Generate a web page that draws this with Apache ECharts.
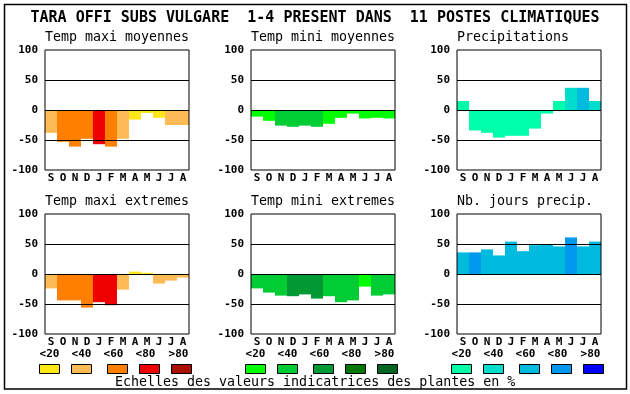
<!DOCTYPE html>
<html><head><meta charset="utf-8">
<script src="https://cdn.jsdelivr.net/npm/echarts@6/dist/echarts.min.js"></script>
<style>html,body{margin:0;padding:0;background:#fff}#c{width:630px;height:394px}</style>
</head><body><div id="c"></div>
<script>
const months = ['S','O','N','D','J','F','M','A','M','J','J','A'];
const scaleLabels = ['<20','<40','<60','<80','>80'];

const maxiMoyValues = [-38,-53,-61,-48,-57,-61,-48,-16,-5,-13,-25,-25];
const maxiMoyClasses = [1,2,2,2,3,2,1,0,0,0,1,1];
const miniMoyValues = [-11,-18,-26,-28,-26,-28,-23,-13,-6,-14,-13,-14];
const miniMoyClasses = [0,0,1,1,1,1,0,0,0,0,0,0];
const precipValues = [15,-34,-38,-46,-43,-43,-31,-6,15,37,37,15];
const precipClasses = [0,0,0,0,0,0,0,0,0,1,2,1];
const maxiExtValues = [-24,-44,-44,-56,-47,-52,-26,4,2,-16,-11,-6];
const maxiExtClasses = [1,2,2,2,3,3,1,0,0,1,1,1];
const miniExtValues = [-24,-31,-36,-37,-34,-41,-37,-47,-44,-21,-36,-34];
const miniExtClasses = [1,1,1,2,2,2,1,1,1,0,1,1];
const joursValues = [36,36,41,31,54,38,48,49,46,61,46,54];
const joursClasses = [2,3,2,2,2,2,2,2,2,3,2,2];

const warmPalette = ['#FFE619','#FFBB55','#FF8000','#EE0000','#AA1100'];
const greenPalette = ['#00FF00','#00CC33','#009933','#007700','#006622'];
const bluePalette = ['#00FFAA','#00DDCC','#00BBDD','#0099EE','#0000FF'];

const titleText = 'TARA OFFI SUBS VULGARE  1-4 PRESENT DANS  11 POSTES CLIMATIQUES';
const footText = 'Echelles des valeurs indicatrices des plantes en %';

const panels = [
  {name:'Temp maxi moyennes', v:maxiMoyValues, c:maxiMoyClasses, p:warmPalette, left:45, top:50},
  {name:'Temp mini moyennes', v:miniMoyValues, c:miniMoyClasses, p:greenPalette, left:251, top:50},
  {name:'Precipitations', v:precipValues, c:precipClasses, p:bluePalette, left:457, top:50},
  {name:'Temp maxi extremes', v:maxiExtValues, c:maxiExtClasses, p:warmPalette, left:45, top:214},
  {name:'Temp mini extremes', v:miniExtValues, c:miniExtClasses, p:greenPalette, left:251, top:214},
  {name:'Nb. jours precip.', v:joursValues, c:joursClasses, p:bluePalette, left:457, top:214}
];

const mono = '"DejaVu Sans Mono", "Liberation Mono", monospace';
const grid=[], xAxis=[], yAxis=[], series=[], graphic=[];

graphic.push({type:'rect', shape:{x:4.5,y:4.5,width:622,height:384.5}, style:{fill:'none',stroke:'#000',lineWidth:1.5}, z:100});
graphic.push({type:'text', x:315, y:18, style:{text:titleText, font:'bold 15px '+mono, fill:'#000', textAlign:'center', textVerticalAlign:'middle'}});
graphic.push({type:'text', x:115, y:383, style:{text:footText, font:'13.3px '+mono, fill:'#000', textAlign:'left', textVerticalAlign:'middle'}});

panels.forEach((pn,i)=>{
  grid.push({left:pn.left, top:pn.top, width:144, height:120, show:true, borderColor:'#000', borderWidth:1, backgroundColor:'transparent', z:5});
  xAxis.push({type:'category', gridIndex:i, data:months, axisLine:{show:false}, axisTick:{show:false},
    axisLabel:{interval:0, margin:3, color:'#000', fontFamily:mono, fontWeight:'bold', fontSize:11}});
  yAxis.push({type:'value', gridIndex:i, min:-100, max:100, interval:50, axisLine:{show:false}, axisTick:{show:false},
    splitLine:{show:false},
    axisLabel:{margin:7, color:'#000', fontFamily:mono, fontWeight:'bold', fontSize:11}});
  series.push({type:'bar', xAxisIndex:i, yAxisIndex:i, barCategoryGap:'0%', barWidth:'100%',
    data: pn.v.map((val,k)=>({value:val, itemStyle:{color:pn.p[pn.c[k]], borderWidth:0}})),
    silent:true, animation:false,
    markLine:{silent:true, symbol:'none', animation:false, label:{show:false},
      lineStyle:{color:'#000', type:'solid', width:1.2},
      data:[{yAxis:50},{yAxis:0},{yAxis:-50}]}
  });
  graphic.push({type:'text', x:pn.left, y:pn.top-12, style:{text:pn.name, font:'13.3px '+mono, fill:'#000', textAlign:'left', textVerticalAlign:'middle'}});
});

// legends
const legendCols = [{box0:39.5, p:warmPalette},{box0:245.5, p:greenPalette},{box0:451.5, p:bluePalette}];
const boxOffsets = [0,32,68,100,132];
const labelOffsets = [10,42,74,106,139];
legendCols.forEach(lc=>{
  scaleLabels.forEach((lab,k)=>{
    graphic.push({type:'text', x:lc.box0+labelOffsets[k], y:354, style:{text:lab, font:'bold 11px '+mono, fill:'#000', textAlign:'center', textVerticalAlign:'middle'}});
    graphic.push({type:'rect', shape:{x:lc.box0+boxOffsets[k], y:364.5, width:20, height:9}, style:{fill:lc.p[k], stroke:'#000', lineWidth:1}});
  });
});

const chart = echarts.init(document.getElementById('c'), null, {renderer:'canvas'});
chart.setOption({animation:false, backgroundColor:'#fff', grid, xAxis, yAxis, series, graphic});
</script></body></html>
